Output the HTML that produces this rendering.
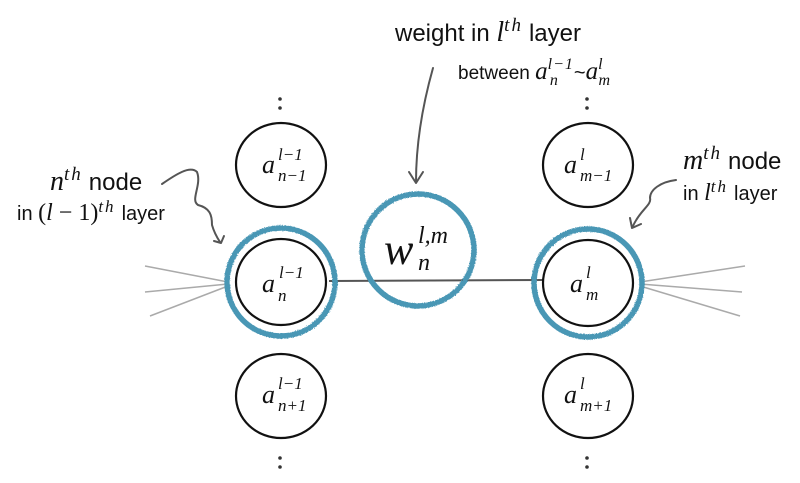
<!DOCTYPE html>
<html><head><meta charset="utf-8"><style>
html,body{margin:0;padding:0;background:#fff;}
svg{display:block}
.s{font-family:"Liberation Sans",sans-serif;fill:#111}
.m{font-family:"Liberation Serif",serif;font-style:italic;fill:#111}
</style></head><body>
<svg width="800" height="483" viewBox="0 0 800 483" xmlns="http://www.w3.org/2000/svg">
<defs>
<filter id="rough"><feTurbulence type="fractalNoise" baseFrequency="0.9" numOctaves="2" result="n"/><feDisplacementMap in="SourceGraphic" in2="n" scale="2"/></filter>
</defs>
<g stroke="#aaa" stroke-width="1.5">
<line x1="145" y1="266" x2="228" y2="282"/><line x1="145" y1="292" x2="228" y2="284"/><line x1="150" y1="316" x2="228" y2="286"/>
<line x1="640" y1="282" x2="745" y2="266"/><line x1="640" y1="284" x2="742" y2="292"/><line x1="640" y1="286" x2="740" y2="316"/>
</g>
<line x1="329" y1="281" x2="543" y2="280" stroke="#555" stroke-width="2"/>
<g fill="none" stroke="#111" stroke-width="2.2">
<ellipse cx="281" cy="165" rx="45" ry="42"/>
<ellipse cx="281" cy="282" rx="45" ry="43"/>
<ellipse cx="281" cy="396" rx="45" ry="42"/>
<ellipse cx="588" cy="165" rx="45" ry="42"/>
<ellipse cx="588" cy="283" rx="45" ry="43"/>
<ellipse cx="588" cy="396" rx="45" ry="42"/>
</g>
<g fill="none" stroke="#4a97b5" stroke-width="5.5" filter="url(#rough)">
<circle cx="281" cy="282" r="54"/>
<circle cx="588" cy="283" r="54"/>
<ellipse cx="418" cy="250" rx="56" ry="56"/>
</g>
<g fill="#333">
<circle cx="280" cy="99" r="1.8"/><circle cx="280" cy="108" r="1.8"/>
<circle cx="587" cy="99" r="1.8"/><circle cx="587" cy="108" r="1.8"/>
<circle cx="280" cy="458" r="1.8"/><circle cx="280" cy="467" r="1.8"/>
<circle cx="587" cy="458" r="1.8"/><circle cx="587" cy="467" r="1.8"/>
</g>
<g fill="none" stroke="#555" stroke-width="2" stroke-linecap="round" stroke-linejoin="round">
<path d="M433 68 C424 100 416 140 416 182"/><path d="M409 172 L416 183 L423 172"/>
<path d="M162 184 C175 175 190 165 197 172 C202 185 190 200 198 205 C210 208 212 215 212 225 C214 232 216 236 220 242"/><path d="M214 241 L221 243 L224 236"/>
<path d="M676 180 C660 182 650 190 650 198 C652 205 640 210 633 226"/><path d="M630 218 L632 228 L641 224"/>
</g>
<g class="m">
<text x="262" y="173" font-size="26">a</text><text x="278" y="160" font-size="17">l−1</text><text x="278" y="181" font-size="17">n−1</text>
<text x="262" y="292" font-size="26">a</text><text x="279" y="278" font-size="17">l−1</text><text x="278" y="301" font-size="17">n</text>
<text x="262" y="403" font-size="26">a</text><text x="278" y="389" font-size="17">l−1</text><text x="278" y="411" font-size="17">n+1</text>
<text x="564" y="173" font-size="26">a</text><text x="580" y="160" font-size="17">l</text><text x="580" y="181" font-size="17">m−1</text>
<text x="570" y="292" font-size="26">a</text><text x="586" y="278" font-size="17">l</text><text x="586" y="300" font-size="17">m</text>
<text x="564" y="403" font-size="26">a</text><text x="580" y="389" font-size="17">l</text><text x="580" y="411" font-size="17">m+1</text>
<text x="384" y="264" font-size="44">w</text><text x="418" y="243" font-size="24">l,m</text><text x="418" y="270" font-size="24">n</text>
</g>
<text class="s" x="395" y="41" font-size="24">weight in <tspan class="m" font-size="28">l</tspan><tspan class="m" font-size="19" dy="-10" letter-spacing="2">th</tspan><tspan dx="6" dy="10">layer</tspan></text>
<text class="s" x="458" y="79" font-size="19">between <tspan class="m" font-size="25">a</tspan><tspan class="m" font-size="16" dy="-10" letter-spacing="1">l−1</tspan><tspan class="m" font-size="16" dx="-24" dy="16">n</tspan><tspan font-size="20" dx="16" dy="-6">~</tspan><tspan class="m" font-size="25">a</tspan><tspan class="m" font-size="16" dy="-10">l</tspan><tspan class="m" font-size="16" dx="-4" dy="16">m</tspan></text>
<text class="s" x="50" y="190" font-size="24"><tspan class="m" font-size="28">n</tspan><tspan class="m" font-size="19" dy="-10" letter-spacing="2">th</tspan><tspan dx="6" dy="10">node</tspan></text>
<text class="s" x="17" y="220" font-size="20">in <tspan font-family="Liberation Serif" font-size="24">(<tspan font-style="italic">l</tspan>  −  1)</tspan><tspan class="m" font-size="17" dy="-8" letter-spacing="2">th</tspan><tspan dx="6" dy="8">layer</tspan></text>
<text class="s" x="683" y="169" font-size="24"><tspan class="m" font-size="28">m</tspan><tspan class="m" font-size="19" dy="-10" letter-spacing="2">th</tspan><tspan dx="6" dy="10">node</tspan></text>
<text class="s" x="683" y="200" font-size="20">in <tspan class="m" font-size="24">l</tspan><tspan class="m" font-size="17" dy="-8" letter-spacing="2">th</tspan><tspan dx="6" dy="8">layer</tspan></text>
</svg>
</body></html>
